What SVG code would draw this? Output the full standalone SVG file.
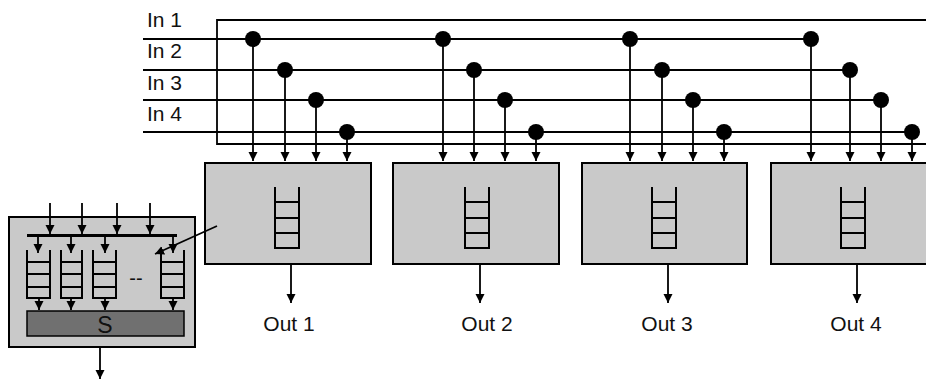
<svg xmlns="http://www.w3.org/2000/svg" width="926" height="380" viewBox="0 0 926 380">
<defs>
<marker id="ah" markerUnits="userSpaceOnUse" markerWidth="10" markerHeight="10" refX="9" refY="4.5" orient="auto">
<path d="M0,0 L9,4.5 L0,9 z" fill="#000"/>
</marker>
<style>
text{font-family:"Liberation Sans",Arial,sans-serif;fill:#111}
.lbl{font-size:21px}
.box{fill:#c9c9c9;stroke:#000;stroke-width:2}
.q{fill:none;stroke:#000;stroke-width:2}
.bus{stroke:#000;stroke-width:2;fill:none}
.frm{stroke:#000;stroke-width:1.8;fill:none}
.arr{stroke:#000;stroke-width:1.8;fill:none;marker-end:url(#ah)}
.dot{fill:#000}
</style>
</defs>
<rect width="926" height="380" fill="#fff"/>

<g id="in-labels">
<text class="lbl" x="147" y="27">In 1</text>
<text class="lbl" x="147" y="58">In 2</text>
<text class="lbl" x="147" y="90">In 3</text>
<text class="lbl" x="147" y="121">In 4</text>
</g>

<g id="port1">
<rect class="box" x="205" y="163" width="166" height="101"/>
<path class="q" d="M275,187 V248 H299 V187 M275,202 H299 M275,218 H299 M275,233 H299"/>
</g>
<g id="port2">
<rect class="box" x="393" y="163" width="166" height="101"/>
<path class="q" d="M465,187 V248 H489 V187 M465,202 H489 M465,218 H489 M465,233 H489"/>
</g>
<g id="port3">
<rect class="box" x="582" y="163" width="165" height="101"/>
<path class="q" d="M652,187 V248 H676 V187 M652,202 H676 M652,218 H676 M652,233 H676"/>
</g>
<g id="port4">
<rect class="box" x="771" y="163" width="170" height="101"/>
<path class="q" d="M841,187 V248 H865 V187 M841,202 H865 M841,218 H865 M841,233 H865"/>
</g>

<g id="out-labels">
<text class="lbl" x="289" y="331" text-anchor="middle">Out 1</text>
<text class="lbl" x="487" y="331" text-anchor="middle">Out 2</text>
<text class="lbl" x="667" y="331" text-anchor="middle">Out 3</text>
<text class="lbl" x="856" y="331" text-anchor="middle">Out 4</text>
</g>

<g id="detail">
<rect class="box" x="9" y="217" width="186" height="130"/>
<path class="q" d="M27,250 V298 H50 V250 M27,262 H50 M27,274 H50 M27,287 H50"/>
<path class="q" d="M61,250 V298 H82 V250 M61,262 H82 M61,274 H82 M61,287 H82"/>
<path class="q" d="M93,250 V298 H116 V250 M93,262 H116 M93,274 H116 M93,287 H116"/>
<path class="q" d="M161,250 V298 H184 V250 M161,262 H184 M161,274 H184 M161,287 H184"/>
<text x="136" y="285" font-size="20" text-anchor="middle">--</text>
<rect x="27" y="311" width="157" height="25" fill="#707070" stroke="#000" stroke-width="1.5"/>
<text x="105" y="333" font-size="23" text-anchor="middle">S</text>
</g>

<g id="connectors">
<path class="frm" d="M926,20 H217 V144 H926"/>
<g class="bus">
<line x1="143" y1="39" x2="811" y2="39"/>
<line x1="143" y1="70" x2="851" y2="70"/>
<line x1="143" y1="100" x2="882" y2="100"/>
<line x1="143" y1="132" x2="913" y2="132"/>
</g>
<g class="dots">
<circle class="dot" cx="253" cy="39" r="8"/>
<circle class="dot" cx="285" cy="70" r="8"/>
<circle class="dot" cx="316" cy="100" r="8"/>
<circle class="dot" cx="347" cy="132" r="8"/>
<circle class="dot" cx="443" cy="39" r="8"/>
<circle class="dot" cx="474" cy="70" r="8"/>
<circle class="dot" cx="505" cy="100" r="8"/>
<circle class="dot" cx="536" cy="132" r="8"/>
<circle class="dot" cx="630" cy="39" r="8"/>
<circle class="dot" cx="662" cy="70" r="8"/>
<circle class="dot" cx="693" cy="100" r="8"/>
<circle class="dot" cx="724" cy="132" r="8"/>
<circle class="dot" cx="811" cy="39" r="8"/>
<circle class="dot" cx="850" cy="70" r="8"/>
<circle class="dot" cx="881" cy="100" r="8"/>
<circle class="dot" cx="912" cy="132" r="8"/>
</g>
<line class="arr" x1="253" y1="39" x2="253" y2="161"/>
<line class="arr" x1="285" y1="70" x2="285" y2="161"/>
<line class="arr" x1="316" y1="100" x2="316" y2="161"/>
<line class="arr" x1="347" y1="132" x2="347" y2="161"/>
<line class="arr" x1="443" y1="39" x2="443" y2="161"/>
<line class="arr" x1="474" y1="70" x2="474" y2="161"/>
<line class="arr" x1="505" y1="100" x2="505" y2="161"/>
<line class="arr" x1="536" y1="132" x2="536" y2="161"/>
<line class="arr" x1="630" y1="39" x2="630" y2="161"/>
<line class="arr" x1="662" y1="70" x2="662" y2="161"/>
<line class="arr" x1="693" y1="100" x2="693" y2="161"/>
<line class="arr" x1="724" y1="132" x2="724" y2="161"/>
<line class="arr" x1="811" y1="39" x2="811" y2="161"/>
<line class="arr" x1="850" y1="70" x2="850" y2="161"/>
<line class="arr" x1="881" y1="100" x2="881" y2="161"/>
<line class="arr" x1="912" y1="132" x2="912" y2="161"/>
<line class="arr" x1="291" y1="264" x2="291" y2="303"/>
<line class="arr" x1="480" y1="264" x2="480" y2="303"/>
<line class="arr" x1="668" y1="264" x2="668" y2="303"/>
<line class="arr" x1="857" y1="264" x2="857" y2="303"/>
<line class="arr" x1="217" y1="226" x2="155" y2="254"/>
<line class="arr" x1="50" y1="203" x2="50" y2="234"/>
<line class="arr" x1="82" y1="203" x2="82" y2="234"/>
<line class="arr" x1="117" y1="203" x2="117" y2="234"/>
<line class="arr" x1="150" y1="203" x2="150" y2="234"/>
<line x1="27" y1="235.5" x2="177" y2="235.5" stroke="#000" stroke-width="3"/>
<line class="arr" x1="38" y1="236" x2="38" y2="253"/>
<line class="arr" x1="71" y1="236" x2="71" y2="253"/>
<line class="arr" x1="105" y1="236" x2="105" y2="253"/>
<line class="arr" x1="173" y1="236" x2="173" y2="253"/>
<line class="arr" x1="39" y1="298" x2="39" y2="310"/>
<line class="arr" x1="71" y1="298" x2="71" y2="310"/>
<line class="arr" x1="105" y1="298" x2="105" y2="310"/>
<line class="arr" x1="173" y1="298" x2="173" y2="310"/>
<line class="arr" x1="100" y1="347" x2="100" y2="379"/>
</g>
</svg>
